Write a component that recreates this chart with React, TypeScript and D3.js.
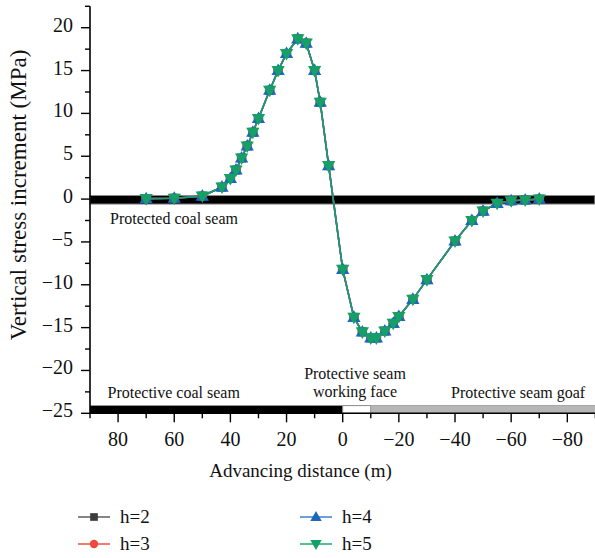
import React from "react";
import * as d3 from "d3";

const distance = [70, 60, 50, 43, 40, 38, 36, 34, 32, 30, 26, 23, 20, 16, 13, 10, 8, 5, 0, -4, -7, -10, -12, -15, -18, -20, -25, -30, -40, -46, -50, -55, -60, -65, -70];
const stressH2 = [0.05, 0.1, 0.35, 1.4, 2.4, 3.4, 4.8, 6.2, 7.8, 9.4, 12.7, 15.0, 17.0, 18.7, 18.2, 15.0, 11.3, 3.9, -8.2, -13.8, -15.5, -16.2, -16.2, -15.4, -14.5, -13.7, -11.7, -9.4, -4.9, -2.5, -1.4, -0.5, -0.2, -0.1, 0.0];
const stressH3 = [0.05, 0.1, 0.35, 1.4, 2.4, 3.4, 4.8, 6.2, 7.8, 9.4, 12.7, 15.0, 17.0, 18.7, 18.2, 15.0, 11.3, 3.9, -8.2, -13.8, -15.5, -16.2, -16.2, -15.4, -14.5, -13.7, -11.7, -9.4, -4.9, -2.5, -1.4, -0.5, -0.2, -0.1, 0.0];
const stressH4 = [0.05, 0.1, 0.35, 1.4, 2.4, 3.4, 4.8, 6.2, 7.8, 9.4, 12.7, 15.0, 17.0, 18.7, 18.2, 15.0, 11.3, 3.9, -8.2, -13.8, -15.5, -16.2, -16.2, -15.4, -14.5, -13.7, -11.7, -9.4, -4.9, -2.5, -1.4, -0.5, -0.2, -0.1, 0.0];
const stressH5 = [0.05, 0.1, 0.35, 1.4, 2.4, 3.4, 4.8, 6.2, 7.8, 9.4, 12.7, 15.0, 17.0, 18.7, 18.2, 15.0, 11.3, 3.9, -8.2, -13.8, -15.5, -16.2, -16.2, -15.4, -14.5, -13.7, -11.7, -9.4, -4.9, -2.5, -1.4, -0.5, -0.2, -0.1, 0.0];

const seriesNames = ["h=2", "h=3", "h=4", "h=5"];
const xTicks = [80, 60, 40, 20, 0, -20, -40, -60, -80];
const xMinorTicks = [90, 70, 50, 30, 10, -10, -30, -50, -70, -90];
const yTicks = [20, 15, 10, 5, 0, -5, -10, -15, -20, -25];
const yMinorTicks = [22.5, 17.5, 12.5, 7.5, 2.5, -2.5, -7.5, -12.5, -17.5, -22.5];

const FONT = "Liberation Serif, DejaVu Serif, serif";

const x = d3.scaleLinear().domain([90, -90]).range([90, 595.4]);
const y = d3.scaleLinear().domain([22.5, -25]).range([6.3, 413.3]);

const series = [
  { name: seriesNames[0], values: stressH2, line: "#555555", fill: "#3d3d3d", legendLine: "#666666", shape: "square" },
  { name: seriesNames[1], values: stressH3, line: "#e8473c", fill: "#ee4a3c", legendLine: "#f0584b", shape: "circle" },
  { name: seriesNames[2], values: stressH4, line: "#2a6fc0", fill: "#1d68bb", legendLine: "#4a88cf", shape: "up" },
  { name: seriesNames[3], values: stressH5, line: "#1c9b70", fill: "#14a066", legendLine: "#22b56f", shape: "down" },
];

function Marker({ shape, cx, cy, fill, s = 7 }: { shape: string; cx: number; cy: number; fill: string; s?: number }) {
  if (shape === "square") return <rect x={cx - s * 0.64} y={cy - s * 0.64} width={s * 1.28} height={s * 1.28} fill={fill} />;
  if (shape === "circle") return <circle cx={cx} cy={cy} r={s * 0.7} fill={fill} />;
  if (shape === "up") {
    return <path d={`M${cx},${cy - s}L${cx + s * 0.95},${cy + s * 0.65}L${cx - s * 0.95},${cy + s * 0.65}Z`} fill={fill} />;
  }
  return <path d={`M${cx},${cy + s}L${cx + s * 0.95},${cy - s * 0.65}L${cx - s * 0.95},${cy - s * 0.65}Z`} fill={fill} />;
}

const textStyle = { fontFamily: FONT };

export default function App() {
  const line = d3
    .line<[number, number]>()
    .x((d) => x(d[0]))
    .y((d) => y(d[1]));

  const legendPos = [
    { lx: 78, ly: 517 },
    { lx: 78, ly: 544 },
    { lx: 300, ly: 517 },
    { lx: 300, ly: 544 },
  ];

  return (
    <svg
      width={595}
      height={558}
      style={{ position: "absolute", left: 0, top: 0, background: "#fff", fontFamily: FONT }}
    >
      {/* zero band: protected coal seam */}
      <rect x={x(90)} y={y(0.42)} width={x(-89.8) - x(90)} height={y(-0.58) - y(0.42)} fill="#000" stroke="#8a8a8a" strokeWidth={1} />

      {/* bottom band */}
      <rect x={x(90)} y={y(-24.1)} width={x(0) - x(90)} height={y(-25) - y(-24.1)} fill="#000" />
      <rect x={x(0)} y={y(-24.1)} width={x(-10) - x(0)} height={y(-25) - y(-24.1)} fill="#fff" stroke="#8a8a8a" strokeWidth={1} />
      <rect x={x(-10)} y={y(-24.1)} width={x(-90) - x(-10)} height={y(-25) - y(-24.1)} fill="#b6b6b6" stroke="#9a9a9a" strokeWidth={0.8} />

      {/* axes */}
      <line x1={90} x2={90} y1={y(22.5)} y2={y(-25)} stroke="#000" strokeWidth={1.6} />
      <line x1={90} x2={595} y1={y(-25)} y2={y(-25)} stroke="#000" strokeWidth={1.6} />
      {yTicks.map((t) => (
        <g key={"yt" + t}>
          <line x1={81} x2={90} y1={y(t)} y2={y(t)} stroke="#000" strokeWidth={1.4} />
          <text x={73} y={y(t)} dy="0.2em" textAnchor="end" fontSize={20} fill="#111" style={textStyle}>
            {t < 0 ? "\u2212" + Math.abs(t) : String(t)}
          </text>
        </g>
      ))}
      {yMinorTicks.map((t) => (
        <line key={"ym" + t} x1={85} x2={90} y1={y(t)} y2={y(t)} stroke="#000" strokeWidth={1.4} />
      ))}
      {xTicks.map((t) => (
        <g key={"xt" + t}>
          <line x1={x(t)} x2={x(t)} y1={y(-25)} y2={y(-25) + 9} stroke="#000" strokeWidth={1.4} />
          <text x={x(t)} y={446} textAnchor="middle" fontSize={20} fill="#111" style={textStyle}>
            {t < 0 ? "\u2212" + Math.abs(t) : String(t)}
          </text>
        </g>
      ))}
      {xMinorTicks.map((t) => (
        <line key={"xm" + t} x1={x(t)} x2={x(t)} y1={y(-25)} y2={y(-25) + 5} stroke="#000" strokeWidth={1.4} />
      ))}

      {/* axis titles */}
      <text x={300.5} y={477} textAnchor="middle" fontSize={19} fill="#111" style={textStyle}>
        Advancing distance (m)
      </text>
      <text transform="translate(26,195) rotate(-90)" textAnchor="middle" fontSize={23} fill="#111" style={textStyle}>
        Vertical stress increment (MPa)
      </text>

      {/* annotations */}
      <text x={110} y={224} fontSize={16} fill="#111" style={textStyle}>Protected coal seam</text>
      <text x={107.5} y={398} fontSize={16} fill="#111" style={textStyle}>Protective coal seam</text>
      <text x={355} y={378.5} textAnchor="middle" fontSize={16} fill="#111" style={textStyle}>Protective seam</text>
      <text x={355} y={397} textAnchor="middle" fontSize={16} fill="#111" style={textStyle}>working face</text>
      <text x={451} y={398} fontSize={16} fill="#111" style={textStyle}>Protective seam goaf</text>

      {/* series */}
      {series.map((s) => (
        <path
          key={"l" + s.name}
          d={line(distance.map((d, i) => [d, s.values[i]] as [number, number])) || ""}
          fill="none"
          stroke={s.line}
          strokeWidth={1.6}
        />
      ))}
      {series.map((s) => (
        <g key={"m" + s.name}>
          {distance.map((d, i) => (
            <Marker key={i} shape={s.shape} cx={x(d)} cy={y(s.values[i])} fill={s.fill} />
          ))}
        </g>
      ))}

      {/* legend */}
      {series.map((s, i) => {
        const p = legendPos[i];
        return (
          <g key={"lg" + s.name}>
            <line x1={p.lx} x2={p.lx + 32} y1={p.ly} y2={p.ly} stroke={s.legendLine} strokeWidth={1.6} />
            <Marker shape={s.shape} cx={p.lx + 16} cy={p.ly} fill={s.fill} s={6} />
            <text x={p.lx + 42} y={p.ly} dy="0.33em" fontSize={19} fill="#111" style={textStyle}>
              {s.name}
            </text>
          </g>
        );
      })}
    </svg>
  );
}
